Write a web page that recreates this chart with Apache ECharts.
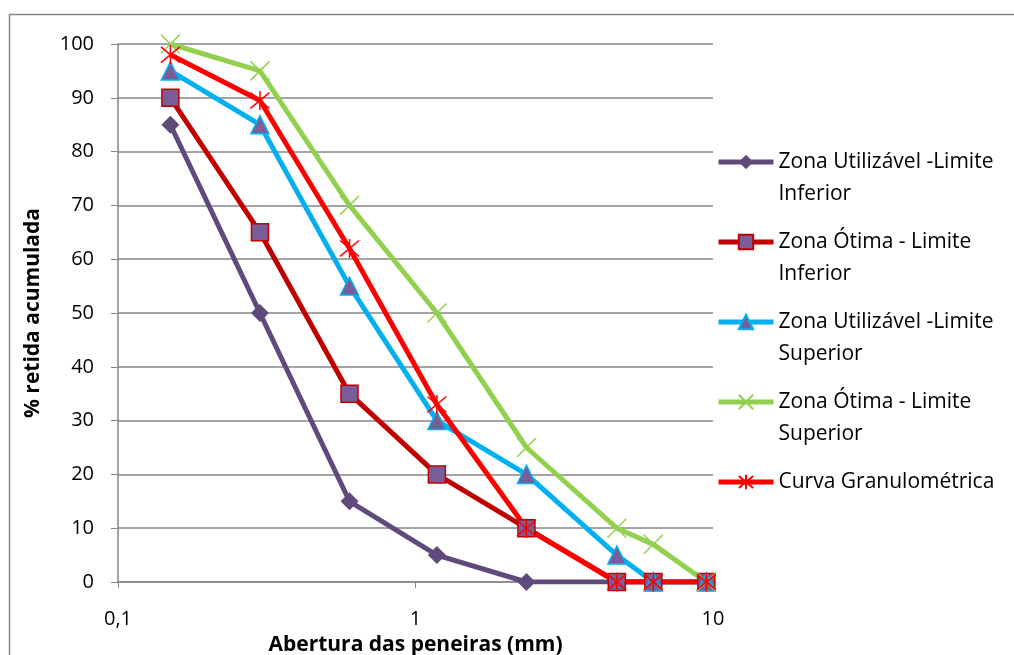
<!DOCTYPE html>
<html><head><meta charset="utf-8">
<script src="https://cdn.jsdelivr.net/npm/echarts@6/dist/echarts.min.js"></script>
<style>html,body{margin:0;padding:0;background:#fff}#c{width:1014px;height:655px}</style>
</head><body><div id="c"></div>
<script>
const sieves = [0.15, 0.3, 0.6, 1.18, 2.36, 4.75, 6.3, 9.5];
const utilInferior = [85, 50, 15, 5, 0, 0, 0, 0];
const otimaInferior = [90, 65, 35, 20, 10, 0, 0, 0];
const utilSuperior = [95, 85, 55, 30, 20, 5, 0, 0];
const otimaSuperior = [100, 95, 70, 50, 25, 10, 7, 0];
const curva = [98, 89.5, 62, 33, 10, 0, 0, 0];
const seriesNames = [
  'Zona Utilizável -Limite\nInferior',
  'Zona Ótima - Limite\nInferior',
  'Zona Utilizável -Limite\nSuperior',
  'Zona Ótima - Limite\nSuperior',
  'Curva Granulométrica'
];
const yTicks = [0,10,20,30,40,50,60,70,80,90,100];

const FONT = 'Open Sans';
const pair = v => sieves.map((s, i) => [s, v[i]]);
const X_PATH = 'path://M0,0L10,10M10,0L0,10';
const STAR_PATH = 'path://M0,0L10,10M10,0L0,10M5,-1L5,11';

function mk(name, data, color, symbol, fill, border, size, bw) {
  return {
    name, type: 'line', data: pair(data),
    symbol, symbolSize: size,
    lineStyle: { color, width: 5 },
    itemStyle: { color: fill, borderColor: border, borderWidth: bw },
    emphasis: { disabled: true },
    animation: false
  };
}

const chart = echarts.init(document.getElementById('c'));
chart.setOption({
  animation: false,
  textStyle: { fontFamily: FONT },
  grid: { left: 118, right: 301, top: 44, bottom: 73, containLabel: false, outerBoundsMode: 'none' },
  graphic: [{
    type: 'rect', shape: { x: 9.5, y: 14.5, width: 1100, height: 700 },
    style: { fill: 'none', stroke: '#888', lineWidth: 1.5 }, silent: true, z: -1
  }],
  legend: {
    orient: 'vertical', left: 716, top: 114, padding: 0,
    itemWidth: 55, itemHeight: 18, itemGap: -16,
    data: seriesNames,
    lineStyle: { width: 5 },
    formatter: n => ' \n' + (n.includes('\n') ? n : n + '\n '),
    textStyle: { fontFamily: FONT, fontSize: 21, color: '#000', lineHeight: 32 }
  },
  xAxis: {
    type: 'log', logBase: 10, min: 0.1, max: 10,
    name: 'Abertura das peneiras (mm)', nameLocation: 'middle', nameGap: 53,
    nameTextStyle: { fontFamily: FONT, fontSize: 21, fontWeight: 'bold', color: '#000' },
    axisLine: { lineStyle: { color: '#868686', width: 1.5 } },
    axisTick: { show: true, length: 6, lineStyle: { color: '#868686' } },
    minorTick: { show: false },
    splitLine: { show: false },
    axisLabel: { fontSize: 20, color: '#000', margin: 27, formatter: v => String(v).replace('.', ',') }
  },
  yAxis: {
    type: 'value', min: 0, max: 100, interval: 10,
    name: '% retida acumulada', nameLocation: 'middle', nameGap: 74, nameRotate: 90,
    nameTextStyle: { fontFamily: FONT, fontSize: 21, fontWeight: 'bold', color: '#000' },
    axisLine: { show: true, lineStyle: { color: '#868686', width: 1.5 } },
    axisTick: { show: true, length: 7, lineStyle: { color: '#868686' } },
    splitLine: { lineStyle: { color: '#868686', width: 1.5 } },
    axisLabel: { fontSize: 20, color: '#000', margin: 24, formatter: v => yTicks.includes(v) ? String(v) : '' }
  },
  series: [
    mk(seriesNames[0], utilInferior, '#604A7B', 'diamond', '#604A7B', '#604A7B', 18, 0),
    mk(seriesNames[1], otimaInferior, '#C00000', 'rect', '#7A5C98', '#C00000', 17, 1.5),
    mk(seriesNames[2], utilSuperior, '#00B0F0', 'triangle', '#7A5C98', '#00B0F0', 18, 1.5),
    mk(seriesNames[3], otimaSuperior, '#92D050', X_PATH, 'none', '#92D050', 19, 1.5),
    mk(seriesNames[4], curva, '#FF0000', STAR_PATH, 'none', '#FF0000', 19, 1.5)
  ]
});
</script></body></html>
